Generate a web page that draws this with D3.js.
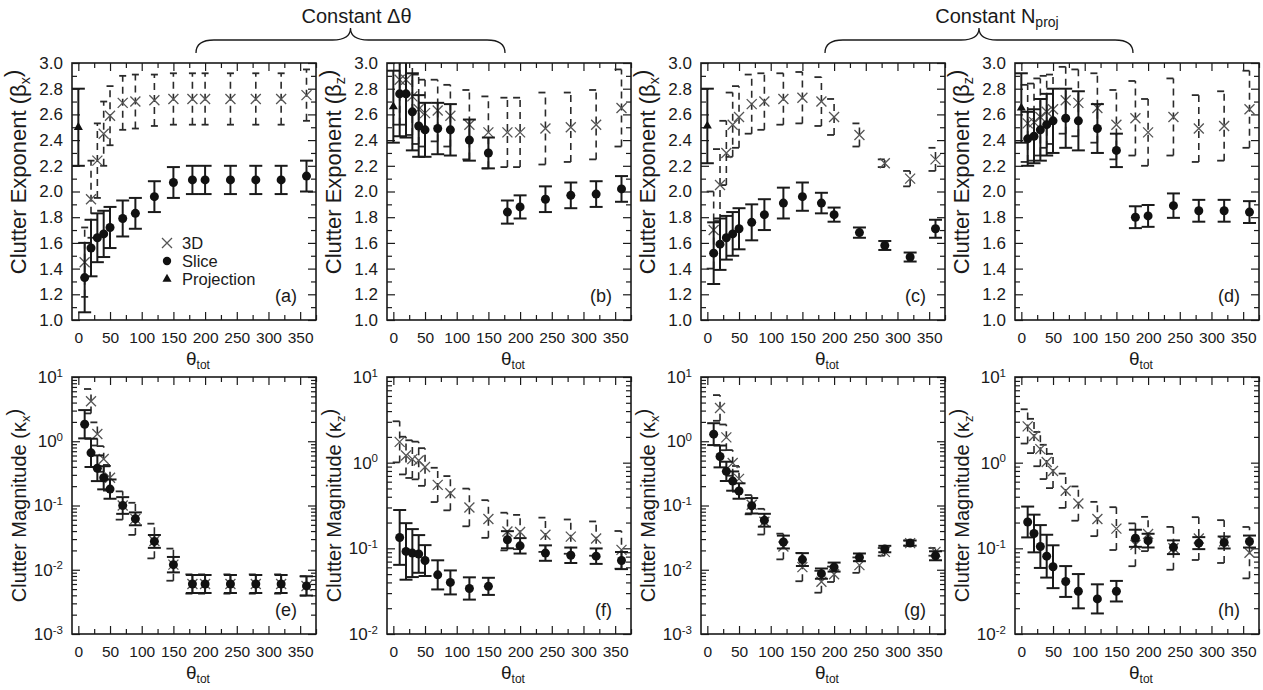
<!DOCTYPE html>
<html>
<head>
<meta charset="utf-8">
<script src="https://cdn.jsdelivr.net/npm/d3@7"></script>
<style>
  body { margin: 0; background: #fff; }
  text { font-family: "Liberation Sans", Arial, sans-serif; fill: #1a1a1a; }
</style>
</head>
<body>
<script>
// total rotation angle (x positions shared by every panel)
const theta = [10, 20, 30, 40, 50, 70, 90, 120, 150, 180, 200, 240, 280, 320, 360];
const xTickValues = [0, 50, 100, 150, 200, 250, 300, 350];
const projTheta = 0;

// (a) beta_x, constant delta theta
const a_slice    = [1.33, 1.56, 1.64, 1.67, 1.72, 1.79, 1.83, 1.96, 2.07, 2.09, 2.09, 2.09, 2.09, 2.09, 2.12];
const a_sliceErr = [0.27, 0.22, 0.19, 0.18, 0.16, 0.14, 0.12, 0.12, 0.12, 0.11, 0.11, 0.11, 0.11, 0.11, 0.12];
const a_3d       = [1.45, 1.94, 2.24, 2.45, 2.59, 2.69, 2.70, 2.71, 2.72, 2.72, 2.72, 2.72, 2.72, 2.72, 2.75];
const a_3dErr    = [0.27, 0.30, 0.29, 0.25, 0.23, 0.21, 0.21, 0.20, 0.20, 0.20, 0.20, 0.20, 0.20, 0.20, 0.20];
const a_proj = 2.50, a_projErr = 0.30;

// (b) beta_z, constant delta theta
const b_slice    = [2.76, 2.76, 2.62, 2.51, 2.48, 2.49, 2.48, 2.40, 2.30, 1.84, 1.88, 1.94, 1.97, 1.98, 2.02];
const b_sliceErr = [0.33, 0.34, 0.30, 0.24, 0.21, 0.20, 0.20, 0.16, 0.12, 0.09, 0.09, 0.10, 0.10, 0.10, 0.10];
const b_3d       = [2.87, 2.87, 2.74, 2.64, 2.61, 2.63, 2.59, 2.52, 2.46, 2.46, 2.46, 2.49, 2.50, 2.52, 2.65];
const b_3dErr    = [0.35, 0.35, 0.30, 0.27, 0.26, 0.24, 0.24, 0.27, 0.28, 0.27, 0.27, 0.28, 0.27, 0.27, 0.30];
const b_proj = 2.66, b_projErr = 0.28;

// (c) beta_x, constant N_proj
const c_slice    = [1.52, 1.59, 1.64, 1.67, 1.71, 1.76, 1.82, 1.91, 1.96, 1.91, 1.82, 1.68, 1.58, 1.49, 1.71];
const c_sliceErr = [0.24, 0.20, 0.17, 0.17, 0.16, 0.14, 0.12, 0.12, 0.11, 0.08, 0.055, 0.04, 0.035, 0.035, 0.07];
const c_3d       = [1.70, 2.05, 2.30, 2.52, 2.58, 2.68, 2.70, 2.72, 2.73, 2.70, 2.58, 2.44, 2.22, 2.10, 2.25];
const c_3dErr    = [0.30, 0.28, 0.25, 0.25, 0.24, 0.23, 0.22, 0.20, 0.20, 0.19, 0.14, 0.09, 0.03, 0.06, 0.09];
const c_proj = 2.51, c_projErr = 0.29;

// (d) beta_z, constant N_proj
const d_slice    = [2.41, 2.43, 2.48, 2.52, 2.55, 2.57, 2.55, 2.49, 2.32, 1.80, 1.81, 1.89, 1.85, 1.85, 1.84];
const d_sliceErr = [0.21, 0.21, 0.24, 0.24, 0.25, 0.23, 0.23, 0.19, 0.13, 0.085, 0.085, 0.095, 0.085, 0.085, 0.085];
const d_3d       = [2.53, 2.54, 2.58, 2.62, 2.64, 2.71, 2.69, 2.65, 2.52, 2.57, 2.46, 2.58, 2.49, 2.51, 2.64];
const d_3dErr    = [0.30, 0.30, 0.30, 0.28, 0.27, 0.26, 0.26, 0.27, 0.27, 0.29, 0.26, 0.30, 0.26, 0.27, 0.30];
const d_proj = 2.65, d_projErr = 0.27;

// (e) kappa_x, constant delta theta  (errors in decades)
const e_slice    = [1.84, 0.66, 0.38, 0.27, 0.18, 0.10, 0.062, 0.0276, 0.012, 0.006, 0.006, 0.006, 0.006, 0.006, 0.0056];
const e_sliceErr = [0.22, 0.22, 0.20, 0.18, 0.15, 0.13, 0.10, 0.10, 0.12, 0.14, 0.14, 0.14, 0.14, 0.14, 0.15];
const e_3d       = [null, 4.2, 1.3, 0.53, 0.27, 0.10, 0.062, 0.028, 0.012, 0.006, 0.006, 0.006, 0.006, 0.006, 0.0056];
const e_3dErr    = [null, 0.19, 0.18, 0.20, 0.20, 0.22, 0.25, 0.27, 0.25, 0.15, 0.15, 0.15, 0.15, 0.15, 0.15];

// (f) kappa_z, constant delta theta
const f_slice    = [0.134, 0.092, 0.088, 0.086, 0.072, 0.049, 0.040, 0.034, 0.036, 0.126, 0.107, 0.088, 0.083, 0.081, 0.072];
const f_sliceErr = [0.32, 0.33, 0.28, 0.22, 0.18, 0.17, 0.14, 0.13, 0.10, 0.10, 0.09, 0.09, 0.09, 0.09, 0.10];
const f_3d       = [1.75, 1.21, 1.10, 1.06, 0.89, 0.55, 0.44, 0.30, 0.22, 0.157, 0.155, 0.144, 0.137, 0.13, 0.096];
const f_3dErr    = [0.24, 0.22, 0.22, 0.22, 0.22, 0.20, 0.20, 0.22, 0.22, 0.22, 0.20, 0.20, 0.20, 0.20, 0.22];

// (g) kappa_x, constant N_proj
const g_slice    = [1.29, 0.58, 0.34, 0.24, 0.168, 0.099, 0.059, 0.027, 0.0144, 0.0087, 0.011, 0.0156, 0.021, 0.026, 0.0165];
const g_sliceErr = [0.17, 0.17, 0.15, 0.15, 0.12, 0.12, 0.10, 0.10, 0.10, 0.08, 0.07, 0.06, 0.05, 0.04, 0.07];
const g_3d       = [null, 3.3, 1.15, 0.46, 0.26, 0.103, 0.056, 0.023, 0.011, 0.0065, 0.0085, 0.0118, 0.019, 0.026, 0.019];
const g_3dErr    = [null, 0.20, 0.20, 0.20, 0.20, 0.15, 0.20, 0.20, 0.22, 0.17, 0.12, 0.12, 0.06, 0.04, 0.06];

// (h) kappa_z, constant N_proj
const h_slice    = [0.203, 0.149, 0.105, 0.081, 0.061, 0.041, 0.0316, 0.0257, 0.0316, 0.131, 0.123, 0.103, 0.115, 0.117, 0.12];
const h_sliceErr = [0.18, 0.22, 0.25, 0.25, 0.25, 0.18, 0.20, 0.17, 0.12, 0.10, 0.08, 0.08, 0.07, 0.07, 0.07];
const h_3d       = [2.65, 2.05, 1.44, 1.02, 0.80, 0.47, 0.333, 0.22, 0.17, 0.11, 0.147, 0.10, 0.13, 0.12, 0.089];
const h_3dErr    = [0.20, 0.20, 0.20, 0.20, 0.20, 0.20, 0.20, 0.20, 0.25, 0.25, 0.20, 0.25, 0.25, 0.25, 0.30];

const legendLabels = ["3D", "Slice", "Projection"];

// layout
const svgWidth = 1263, svgHeight = 690;
const panelLefts = [72, 387, 701, 1015];
const rowTops = [63, 377];
const panelW = 244, panelH = 257;
const ink = "#1a1a1a";

const panels = [
  {id: "a", row: 0, col: 0, log: false, sym: "β", sub: "x", slice: a_slice, sliceErr: a_sliceErr, d3: a_3d, d3Err: a_3dErr, proj: a_proj, projErr: a_projErr, fullCap: true},
  {id: "b", row: 0, col: 1, log: false, sym: "β", sub: "z", slice: b_slice, sliceErr: b_sliceErr, d3: b_3d, d3Err: b_3dErr, proj: b_proj, projErr: b_projErr},
  {id: "c", row: 0, col: 2, log: false, sym: "β", sub: "x", slice: c_slice, sliceErr: c_sliceErr, d3: c_3d, d3Err: c_3dErr, proj: c_proj, projErr: c_projErr},
  {id: "d", row: 0, col: 3, log: false, sym: "β", sub: "z", slice: d_slice, sliceErr: d_sliceErr, d3: d_3d, d3Err: d_3dErr, proj: d_proj, projErr: d_projErr},
  {id: "e", row: 1, col: 0, log: true, yMin: 1e-3, sym: "κ", sub: "x", slice: e_slice, sliceErr: e_sliceErr, d3: e_3d, d3Err: e_3dErr},
  {id: "f", row: 1, col: 1, log: true, yMin: 1e-2, sym: "κ", sub: "z", slice: f_slice, sliceErr: f_sliceErr, d3: f_3d, d3Err: f_3dErr},
  {id: "g", row: 1, col: 2, log: true, yMin: 1e-3, sym: "κ", sub: "x", slice: g_slice, sliceErr: g_sliceErr, d3: g_3d, d3Err: g_3dErr},
  {id: "h", row: 1, col: 3, log: true, yMin: 1e-2, sym: "κ", sub: "z", slice: h_slice, sliceErr: h_sliceErr, d3: h_3d, d3Err: h_3dErr}
];

const svg = d3.select("body")
  .append("svg")
  .attr("width", svgWidth)
  .attr("height", svgHeight);

const defs = svg.append("defs");

function styleAxis(g, size) {
  g.select(".domain").remove();
  g.selectAll(".tick line").attr("stroke", ink).attr("stroke-width", 1.2);
  g.selectAll(".tick text").attr("font-size", size || "17px").attr("fill", ink);
}

panels.forEach(p => {
  const left = panelLefts[p.col], top = rowTops[p.row];
  const right = left + panelW, bottom = top + panelH;

  const x = d3.scaleLinear().domain([-10, 375]).range([left, right]);
  const y = p.log
    ? d3.scaleLog().domain([p.yMin, 10]).range([bottom, top])
    : d3.scaleLinear().domain([1, 3]).range([bottom, top]);

  defs.append("clipPath").attr("id", "clip-" + p.id)
    .append("rect").attr("x", left).attr("y", top).attr("width", panelW).attr("height", panelH);

  const g = svg.append("g");

  // y ticks
  let yMajor, yMinor, yFormat;
  if (p.log) {
    const all = y.ticks();
    yMajor = all.filter(v => Math.abs(Math.log10(v) - Math.round(Math.log10(v))) < 1e-9);
    yMinor = all.filter(v => !yMajor.includes(v));
    yFormat = () => "";
  } else {
    yMajor = y.ticks(10);
    yMinor = y.ticks(20).filter(v => Math.round(v * 10) % 2 !== 0);
    yFormat = d3.format(".1f");
  }

  const yLeft = g.append("g").attr("transform", `translate(${left},0)`)
    .call(d3.axisLeft(y).tickValues(yMajor).tickFormat(yFormat).tickSize(-8).tickSizeOuter(0).tickPadding(9))
    .call(styleAxis);
  g.append("g").attr("transform", `translate(${left},0)`)
    .call(d3.axisLeft(y).tickValues(yMinor).tickFormat("").tickSize(-5).tickSizeOuter(0))
    .call(styleAxis);
  g.append("g").attr("transform", `translate(${right},0)`)
    .call(d3.axisRight(y).tickValues(yMajor).tickFormat("").tickSize(-8).tickSizeOuter(0))
    .call(styleAxis);
  g.append("g").attr("transform", `translate(${right},0)`)
    .call(d3.axisRight(y).tickValues(yMinor).tickFormat("").tickSize(-5).tickSizeOuter(0))
    .call(styleAxis);

  if (p.log) {
    yLeft.selectAll(".tick text").each(function(d) {
      const t = d3.select(this);
      t.append("tspan").text("10");
      t.append("tspan").attr("dy", "-0.55em").attr("font-size", "11.5px")
        .text(String(Math.round(Math.log10(d))));
    });
  }

  // x ticks
  const xMinor = xTickValues.map(v => v + 25);
  g.append("g").attr("transform", `translate(0,${bottom})`)
    .call(d3.axisBottom(x).tickValues(xTickValues).tickSize(-8).tickSizeOuter(0).tickPadding(12))
    .call(styleAxis, "15.5px");
  g.append("g").attr("transform", `translate(0,${bottom})`)
    .call(d3.axisBottom(x).tickValues(xMinor).tickFormat("").tickSize(-5).tickSizeOuter(0))
    .call(styleAxis);
  g.append("g").attr("transform", `translate(0,${top})`)
    .call(d3.axisTop(x).tickValues(xTickValues).tickFormat("").tickSize(-8).tickSizeOuter(0))
    .call(styleAxis);
  g.append("g").attr("transform", `translate(0,${top})`)
    .call(d3.axisTop(x).tickValues(xMinor).tickFormat("").tickSize(-5).tickSizeOuter(0))
    .call(styleAxis);

  // frame
  g.append("rect")
    .attr("x", left).attr("y", top).attr("width", panelW).attr("height", panelH)
    .attr("fill", "none").attr("stroke", ink).attr("stroke-width", 1.6);

  // axis titles
  const yMidLabel = p.log ? (top + bottom) / 2 : top + 109;
  const yt = g.append("text")
    .attr("transform", `translate(${left - 46},${yMidLabel}) rotate(-90)`)
    .attr("text-anchor", "middle")
    .attr("font-size", p.log ? "20px" : "22px");
  yt.append("tspan").text(`Clutter ${p.log ? "Magnitude" : "Exponent"} (${p.sym}`);
  yt.append("tspan").attr("dy", "0.3em").attr("font-size", "0.65em").text(p.sub);
  yt.append("tspan").attr("dy", "-0.45em").text(")");

  const xt = g.append("text")
    .attr("x", (left + right) / 2 + 4).attr("y", bottom + 45)
    .attr("text-anchor", "middle").attr("font-size", "19px");
  xt.append("tspan").text("θ");
  xt.append("tspan").attr("dy", "0.35em").attr("font-size", "12px").text("tot");

  g.append("text")
    .attr("x", right - 19).attr("y", bottom - 18)
    .attr("text-anchor", "end").attr("font-size", "18px")
    .text(`(${p.id})`);

  // marks
  const lo = (v, e) => p.log ? v / Math.pow(10, e) : v - e;
  const hi = (v, e) => p.log ? v * Math.pow(10, e) : v + e;
  const plot = g.append("g").attr("clip-path", `url(#clip-${p.id})`);

  const idx3d = theta.map((t, i) => i).filter(i => p.d3[i] != null);
  const idxSl = theta.map((t, i) => i).filter(i => p.slice[i] != null);

  // 3D: dashed bars with short caps
  const capL = p.fullCap ? -3.5 : -7, capR = p.fullCap ? 3.5 : 0;
  plot.selectAll(".bar3d").data(idx3d).enter().append("line")
    .attr("x1", i => x(theta[i])).attr("x2", i => x(theta[i]))
    .attr("y1", i => y(lo(p.d3[i], p.d3Err[i]))).attr("y2", i => y(hi(p.d3[i], p.d3Err[i])))
    .attr("stroke", "#2a2a2a").attr("stroke-width", 1.6).attr("stroke-dasharray", "7,5");
  [lo, hi].forEach(fn => {
    plot.selectAll(null).data(idx3d).enter().append("line")
      .attr("x1", i => x(theta[i]) + capL).attr("x2", i => x(theta[i]) + capR)
      .attr("y1", i => y(fn(p.d3[i], p.d3Err[i]))).attr("y2", i => y(fn(p.d3[i], p.d3Err[i])))
      .attr("stroke", "#2a2a2a").attr("stroke-width", 1.8);
  });
  plot.selectAll(".x3d").data(idx3d).enter().append("path")
    .attr("transform", i => `translate(${x(theta[i])},${y(p.d3[i])})`)
    .attr("d", "M-5,-5L5,5M-5,5L5,-5")
    .attr("stroke", "#555").attr("stroke-width", 1.3).attr("fill", "none");

  // slice: solid bars with caps
  plot.selectAll(".barsl").data(idxSl).enter().append("line")
    .attr("x1", i => x(theta[i])).attr("x2", i => x(theta[i]))
    .attr("y1", i => y(lo(p.slice[i], p.sliceErr[i]))).attr("y2", i => y(hi(p.slice[i], p.sliceErr[i])))
    .attr("stroke", ink).attr("stroke-width", 2);
  [lo, hi].forEach(fn => {
    plot.selectAll(null).data(idxSl).enter().append("line")
      .attr("x1", i => x(theta[i]) - 6.5).attr("x2", i => x(theta[i]) + 6.5)
      .attr("y1", i => y(fn(p.slice[i], p.sliceErr[i]))).attr("y2", i => y(fn(p.slice[i], p.sliceErr[i])))
      .attr("stroke", ink).attr("stroke-width", 2);
  });
  plot.selectAll(".dot").data(idxSl).enter().append("circle")
    .attr("cx", i => x(theta[i])).attr("cy", i => y(p.slice[i])).attr("r", 4.5)
    .attr("fill", "#111");

  // projection
  if (p.proj != null) {
    const px = x(projTheta);
    plot.append("line")
      .attr("x1", px).attr("x2", px)
      .attr("y1", y(p.proj - p.projErr)).attr("y2", y(p.proj + p.projErr))
      .attr("stroke", ink).attr("stroke-width", 2);
    [p.proj - p.projErr, p.proj + p.projErr].forEach(v => {
      plot.append("line").attr("x1", px - 6.5).attr("x2", px + 6.5)
        .attr("y1", y(v)).attr("y2", y(v)).attr("stroke", ink).attr("stroke-width", 2);
    });
    plot.append("path")
      .attr("transform", `translate(${px},${y(p.proj)})`)
      .attr("d", d3.symbol(d3.symbolTriangle, 36)())
      .attr("fill", "#111");
  }

  // legend in panel (a)
  if (p.id === "a") {
    const lx = 167, ly = [243, 261, 279];
    const lg = g.append("g");
    lg.append("path").attr("transform", `translate(${lx},${ly[0]})`)
      .attr("d", "M-5,-5L5,5M-5,5L5,-5").attr("stroke", "#555").attr("stroke-width", 1.3);
    lg.append("circle").attr("cx", lx).attr("cy", ly[1]).attr("r", 4.2).attr("fill", "#111");
    lg.append("path").attr("transform", `translate(${lx},${ly[2]})`)
      .attr("d", d3.symbol(d3.symbolTriangle, 36)()).attr("fill", "#111");
    legendLabels.forEach((t, k) => {
      lg.append("text").attr("x", lx + 15).attr("y", ly[k]).attr("dy", "0.35em")
        .attr("font-size", "16.5px").text(t);
    });
  }
});

// braces grouping the columns
function brace(x0, x1, yEnd, yMid, yTip, r) {
  const xm = (x0 + x1) / 2;
  return `M${x0},${yEnd} Q${x0},${yMid} ${x0 + r},${yMid} L${xm - r},${yMid} Q${xm},${yMid} ${xm},${yTip}` +
         ` Q${xm},${yMid} ${xm + r},${yMid} L${x1 - r},${yMid} Q${x1},${yMid} ${x1},${yEnd}`;
}
const groupTitles = [
  {x0: panelLefts[0] + panelW / 2, x1: panelLefts[1] + panelW / 2},
  {x0: panelLefts[2] + panelW / 2, x1: panelLefts[3] + panelW / 2}
];
groupTitles.forEach((gt, k) => {
  svg.append("path").attr("d", brace(gt.x0 + 2, gt.x1 - 4, 53, 40, 28, 18))
    .attr("fill", "none").attr("stroke", ink).attr("stroke-width", 1.3);
  const t = svg.append("text")
    .attr("x", (gt.x0 + gt.x1) / 2 + 5 + (k === 1 ? 12 : 0)).attr("y", 23)
    .attr("text-anchor", "middle").attr("font-size", "20px");
  if (k === 0) {
    t.text("Constant Δθ");
  } else {
    t.append("tspan").text("Constant N");
    t.append("tspan").attr("dy", "0.3em").attr("font-size", "14px").text("proj");
  }
});
</script>
</body>
</html>
